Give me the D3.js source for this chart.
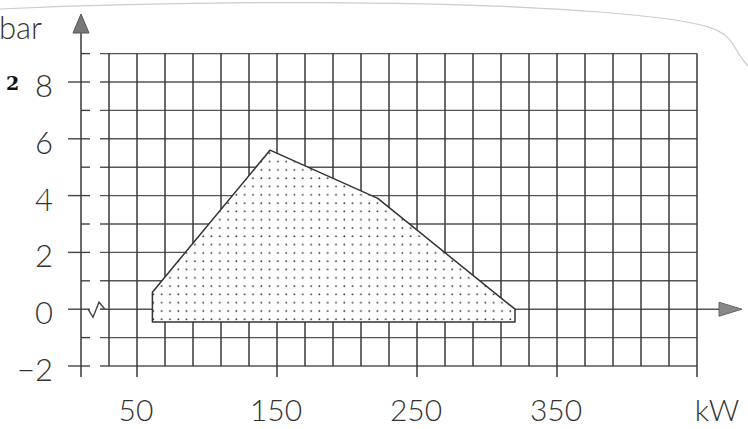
<!DOCTYPE html>
<html>
<head>
<meta charset="utf-8">
<script src="https://cdn.jsdelivr.net/npm/d3@7"></script>
<style>
  html, body { margin: 0; padding: 0; background: #fff; }
  svg { display: block; }
  .lbl { font-family: Lato, "Open Sans", sans-serif; font-weight: 300; fill: #333; }
</style>
</head>
<body>
<div class="content"></div>
<script>
const w = 748;
const h = 429;

// data
const kwTicks = [50, 150, 250, 350];
const kwLongTicks = [50, 150, 250, 350, 450];
const barTicks = [-2, 0, 2, 4, 6, 8];
const barGrid = [-2, -1, 0, 1, 2, 3, 4, 5, 6, 7, 8, 9];
const kwGrid = d3.range(30, 451, 20);
const envKw = [61, 61, 145, 222, 320, 320];
const envBar = [-0.45, 0.6, 5.6, 3.9, 0, -0.45];

const x = d3.scaleLinear().domain([50, 450]).range([137, 697]);
const y = d3.scaleLinear().domain([-2, 8]).range([366, 82]);

const axisX = x(10);       // the vertical axis sits at 10 kW (broken axis)
const gridLeft = 100;
const gridRight = x(450);
const gridTop = y(9);
const gridBottom = y(-2);

const svg = d3.select('.content').append('svg')
  .attr('width', w)
  .attr('height', h);

// dotted fill pattern
const pat = svg.append('defs').append('pattern')
  .attr('id', 'dots')
  .attr('patternUnits', 'userSpaceOnUse')
  .attr('width', 8.3)
  .attr('height', 8.3);
pat.append('rect').attr('width', 8.3).attr('height', 8.3).attr('fill', '#fff');
pat.append('circle').attr('cx', 4).attr('cy', 4).attr('r', 0.9).attr('fill', '#333');

// faint page edge from the photocopy
svg.append('path')
  .attr('d', 'M0,9 C200,0 450,0 600,12 S720,35 748,66')
  .attr('fill', 'none')
  .attr('stroke', '#ccc')
  .attr('stroke-width', 1.2);

// horizontal grid
svg.append('g').selectAll('line')
  .data(barGrid)
  .enter()
  .append('line')
  .attr('x1', gridLeft)
  .attr('x2', (d) => d === 0 ? 720 : gridRight)
  .attr('y1', (d) => y(d))
  .attr('y2', (d) => y(d))
  .attr('stroke', '#555')
  .attr('stroke-width', 1.4);

// vertical grid
svg.append('g').selectAll('line')
  .data(kwGrid)
  .enter()
  .append('line')
  .attr('x1', (d) => x(d))
  .attr('x2', (d) => x(d))
  .attr('y1', gridTop)
  .attr('y2', (d) => kwLongTicks.includes(d) ? gridBottom + 11 : gridBottom)
  .attr('stroke', '#3a3a3a')
  .attr('stroke-width', 1.5);

// y axis ticks: major cross the axis, minor only on the right
svg.append('g').selectAll('line')
  .data(barGrid)
  .enter()
  .append('line')
  .attr('x1', (d) => barTicks.includes(d) ? axisX - 13 : axisX)
  .attr('x2', axisX + 9)
  .attr('y1', (d) => y(d))
  .attr('y2', (d) => y(d))
  .attr('stroke', '#444')
  .attr('stroke-width', 1.4);

// axis break zigzag on the 0 bar line
const y0 = y(0);
svg.append('path')
  .attr('d', `M${axisX + 7},${y0} L${axisX + 12},${y0 + 8} L${axisX + 18},${y0 - 7} L${axisX + 24},${y0}`)
  .attr('fill', 'none')
  .attr('stroke', '#444')
  .attr('stroke-width', 1.4);
svg.append('line')
  .attr('x1', axisX + 24).attr('x2', gridLeft)
  .attr('y1', y0).attr('y2', y0)
  .attr('stroke', '#555').attr('stroke-width', 1.4);

// envelope
const env = envKw.map((k, i) => [x(k), y(envBar[i])]);
svg.append('path')
  .attr('d', d3.line()(env) + 'Z')
  .attr('fill', 'url(#dots)')
  .attr('stroke', '#333')
  .attr('stroke-width', 1.5)
  .attr('stroke-linejoin', 'round');

// y axis with arrow
svg.append('line')
  .attr('x1', axisX).attr('x2', axisX)
  .attr('y1', gridBottom + 11).attr('y2', 30)
  .attr('stroke', '#3a3a3a').attr('stroke-width', 1.5);
svg.append('path')
  .attr('d', `M${axisX},14 L${axisX - 8},33 L${axisX + 8},33 Z`)
  .attr('fill', '#777')
  .attr('stroke', '#555')
  .attr('stroke-width', 1);

// x axis arrow
svg.append('path')
  .attr('d', `M742,${y0} L719,${y0 - 7} L719,${y0 + 7} Z`)
  .attr('fill', '#888')
  .attr('stroke', '#666')
  .attr('stroke-width', 1);

// y labels
svg.append('g').selectAll('text')
  .data(barTicks)
  .enter()
  .append('text')
  .attr('class', 'lbl')
  .attr('x', 53)
  .attr('y', (d) => y(d) + 15)
  .attr('text-anchor', 'end')
  .attr('font-size', 31)
  .text((d) => d < 0 ? '\u2212' + Math.abs(d) : d);

// x labels
svg.append('g').selectAll('text')
  .data(kwTicks)
  .enter()
  .append('text')
  .attr('class', 'lbl')
  .attr('x', (d) => x(d) - 1)
  .attr('y', 421)
  .attr('text-anchor', 'middle')
  .attr('font-size', 30)
  .text((d) => d);

svg.append('text')
  .attr('class', 'lbl')
  .attr('x', 717)
  .attr('y', 421)
  .attr('text-anchor', 'middle')
  .attr('font-size', 30)
  .text('kW');

svg.append('text')
  .attr('class', 'lbl')
  .attr('x', -1)
  .attr('y', 39)
  .attr('font-size', 31)
  .text('bar');

// stray bold "2" printed next to the 8
svg.append('text')
  .attr('x', 6)
  .attr('y', 90)
  .attr('font-family', '"DejaVu Serif", "Liberation Serif", serif')
  .attr('font-weight', 'bold')
  .attr('font-size', 19)
  .attr('fill', '#111')
  .text('2');
</script>
</body>
</html>
